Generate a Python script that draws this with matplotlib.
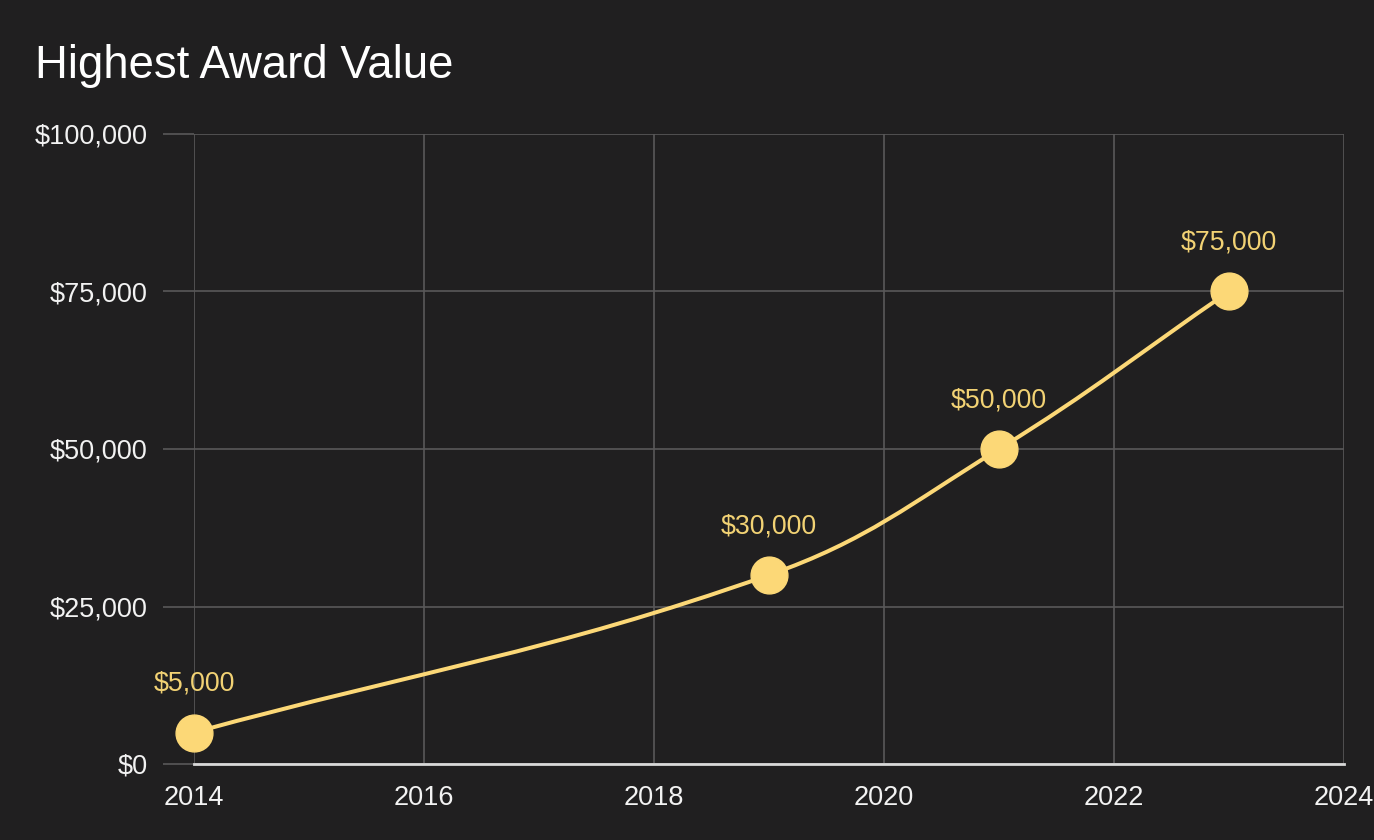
import numpy as np
import matplotlib
matplotlib.use("Agg")
import matplotlib.pyplot as plt
from matplotlib.path import Path
from matplotlib.patches import PathPatch

years = [2014, 2019, 2021, 2023]
awards = [5000, 30000, 50000, 75000]
labels = ["$5,000", "$30,000", "$50,000", "$75,000"]
x_ticks = [2014, 2016, 2018, 2020, 2022, 2024]
y_ticks = [0, 25000, 50000, 75000, 100000]
y_tick_labels = ["$0", "$25,000", "$50,000", "$75,000", "$100,000"]

bg = "#201f20"
grid_c = "#595859"
gold = "#fcd877"
label_gold = "#f2d274"

plt.rcParams['font.family'] = ['Liberation Sans', 'DejaVu Sans']

fig = plt.figure(figsize=(13.74, 8.4), dpi=100, facecolor=bg)
ax = fig.add_axes([194/1374, 1-764/840, (1344-194)/1374, (764-134)/840])
ax.set_facecolor(bg)
ax.set_xlim(2014, 2024)
ax.set_ylim(0, 100000)

ax.set_xticks(x_ticks)
ax.set_xticklabels([str(t) for t in x_ticks])
ax.set_yticks(y_ticks)
ax.set_yticklabels(y_tick_labels)
ax.tick_params(axis='y', length=22.3, width=1.2, color=grid_c, pad=11, labelsize=19.5, labelcolor='#f2f2f2')
ax.tick_params(axis='x', length=0, pad=15, labelsize=19.5, labelcolor='#f2f2f2')
ax.yaxis.get_major_ticks()[0].tick1line.set_color('#d8d8d8')
ax.grid(True, color=grid_c, linewidth=1.2)
for s in ['top', 'right', 'left']:
    ax.spines[s].set_visible(False)
ax.spines['bottom'].set_color('#d8d8d8')
ax.spines['bottom'].set_linewidth(2)
ax.spines['bottom'].set_zorder(3)

# chart.js style spline (tension 0.4) computed in pixel space
pts = ax.transData.transform(np.column_stack([years, awards]))
n = len(pts)
t = 0.4
cp_prev = pts.copy()
cp_next = pts.copy()
for i in range(n):
    p0 = pts[max(i-1, 0)]
    p1 = pts[i]
    p2 = pts[min(i+1, n-1)]
    d01 = np.hypot(*(p1-p0))
    d12 = np.hypot(*(p2-p1))
    s01 = d01/(d01+d12) if d01+d12 else 0
    s12 = d12/(d01+d12) if d01+d12 else 0
    cp_prev[i] = p1 - t*s01*(p2-p0)
    cp_next[i] = p1 + t*s12*(p2-p0)
verts = [pts[0]]
codes = [Path.MOVETO]
for i in range(n-1):
    verts += [cp_next[i], cp_prev[i+1], pts[i+1]]
    codes += [Path.CURVE4]*3
inv = ax.transData.inverted()
verts = inv.transform(np.array(verts))
ax.add_patch(PathPatch(Path(verts, codes), facecolor='none', edgecolor=gold, linewidth=2.9, zorder=4))

ax.plot(years, awards, 'o', color=gold, markersize=26.5, zorder=5, clip_on=False)
for x, y, lab in zip(years, awards, labels):
    ax.annotate(lab, (x, y), xytext=(0, 35), textcoords='offset points',
                ha='center', va='center', fontsize=19.3, color=label_gold, zorder=6)

fig.text(35/1374, 1-78/840, "Highest Award Value", fontsize=32.8, color='white',
         va='baseline', ha='left')

fig.savefig("out.png", dpi=100, facecolor=bg)
